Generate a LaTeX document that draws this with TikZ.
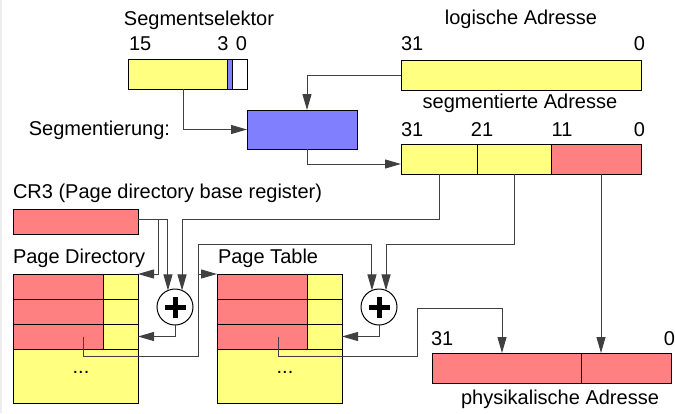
\documentclass[tikz,border=0pt]{standalone}
\usepackage{fontspec}
\setmainfont{Liberation Sans}
\usetikzlibrary{arrows.meta}

\definecolor{gelb}{HTML}{FFFF80}
\definecolor{rot}{HTML}{FF8080}
\definecolor{blau}{HTML}{8080FF}
\definecolor{linie}{HTML}{404040}

\begin{document}
\begin{tikzpicture}[
		x=0.5pt, y=-0.5pt,
		every node/.style={font=\fontsize{10}{12}\selectfont},
		feld/.style={draw=black, line width=0.5pt, inner sep=0pt, outer sep=0pt, anchor=north west, minimum height=15pt},
		zeile/.style={feld, minimum height=12.5pt},
		lbl/.style={inner sep=0pt, outer sep=0pt, anchor=base},
		conn/.style={draw=linie, line width=0.5pt, -{Triangle[length=8pt,width=4.5pt]}},
		addierer/.style={circle, draw=black, line width=0.5pt, minimum size=18pt, inner sep=0pt, outer sep=0pt, fill=white,
			path picture={\draw[line width=2.5pt] (path picture bounding box.center) +(-5.25pt,0) -- +(5.25pt,0) +(0,-5.25pt) -- +(0,5.25pt);}}
		]
		\useasboundingbox (0,0) rectangle (675,413);
		\fill[black!7] (0,0) rectangle (2,413);

		\node[feld, fill=gelb, minimum width=49.5pt] (selgelb) at (128,59) {};
		\node[feld, fill=blau, minimum width=2.5pt] (selblau) at (227,59) {};
		\node[feld, fill=white, minimum width=7.5pt] (selweiss) at (232,59) {};
		\node[lbl] (seltext) at (199,25) {Segmentselektor};
		\node[lbl, anchor=base west] (sel15) at (129,50) {15};
		\node[lbl] (sel3) at (223,50) {3};
		\node[lbl, anchor=base east] (sel0) at (247,50) {0};

		\node[feld, fill=gelb, minimum width=120pt] (logadr) at (401,60) {};
		\node[lbl] (logtext) at (521,24) {logische Adresse};
		\node[lbl, anchor=base west] (log31) at (401,50) {31};
		\node[lbl, anchor=base east] (log0) at (645,50) {0};

		\node[feld, fill=blau, minimum width=55pt, minimum height=19.5pt] (segm) at (247,110) {};
		\node[lbl, anchor=base east] (segmtext) at (170,135) {Segmentierung:};

		\node[feld, fill=gelb, minimum width=38pt] (segf1) at (401,144) {};
		\node[feld, fill=gelb, minimum width=37pt] (segf2) at (477,144) {};
		\node[feld, fill=rot, minimum width=45pt] (segf3) at (551,144) {};
		\node[lbl] (segtext) at (520,108) {segmentierte Adresse};
		\node[lbl, anchor=base west] (seg31) at (401,136) {31};
		\node[lbl] (seg21) at (482,136) {21};
		\node[lbl] (seg11) at (562,136) {11};
		\node[lbl, anchor=base east] (seg0) at (645,136) {0};

		\node[zeile, fill=rot, minimum width=62.5pt] (cr3) at (13,209) {};
		\node[lbl, anchor=base west] (cr3text) at (13,198) {CR3 (Page directory base register)};

		\node[lbl, anchor=base west] (pdtext) at (13,263) {Page Directory};
		\node[lbl, anchor=base west] (pttext) at (218,263) {Page Table};
		\foreach \i in {1,2,3} {
			\node[zeile, fill=rot, minimum width=45pt] (pdr\i) at (13,{249+25*\i}) {};
			\node[zeile, fill=gelb, minimum width=17.5pt] (pdg\i) at (103,{249+25*\i}) {};
			\node[zeile, fill=rot, minimum width=45pt] (ptr\i) at (217,{249+25*\i}) {};
			\node[zeile, fill=gelb, minimum width=17.5pt] (ptg\i) at (307,{249+25*\i}) {};
		}
		\node[feld, fill=gelb, minimum width=62.5pt, minimum height=27pt] (pdrest) at (13,349) {};
		\node[feld, fill=gelb, minimum width=62.5pt, minimum height=27pt] (ptrest) at (217,349) {};
		\node[lbl] (pddots) at (81,373) {...};
		\node[lbl] (ptdots) at (285,373) {...};

		\node[addierer] (add1) at (175,307) {};
		\node[addierer] (add2) at (379,307) {};

		\node[feld, fill=rot, minimum width=74.5pt] (phys1) at (432,353) {};
		\node[feld, fill=rot, minimum width=45pt] (phys2) at (581,353) {};
		\node[lbl, anchor=base west] (phys31) at (431,345) {31};
		\node[lbl, anchor=base east] (phys0) at (675,345) {0};
		\node[lbl] (physfext) at (560,404) {physikalische Adresse};

		\coordinate (selaus) at ([xshift=27.5pt]selgelb.south west);
		\coordinate (segaus) at ([xshift=30pt]segm.south west);
		\coordinate (cr3aus) at ([yshift=1.25pt]cr3.east);
		\coordinate (abzw) at ([xshift=10pt]cr3aus);
		\coordinate (pdzeiger) at ([xshift=35pt]pdr3.west);
		\coordinate (ptzeiger) at ([xshift=30.5pt]ptr3.west);
		\coordinate (pdbus) at (198,244);
		\coordinate (ptbus) at (417,308);
		\coordinate (physein) at ([xshift=35pt]phys1.north west);
		\coordinate (segf3aus) at ([xshift=25pt]segf3.south west);

		\draw[conn] (logadr.west) -| ([xshift=30pt]segm.north west);
		\draw[conn] (selaus) |- (segm.west);
		\draw[conn] (segaus) |- ([yshift=-2.5pt]segf1.west);
		\draw[conn] (cr3aus) -| (add1.113);
		\draw[conn] (abzw) |- (pdg1.north east);
		\draw[conn] (segf1.south) -- (segf1.south |- cr3aus) -| (add1.67);
		\draw[conn] (add1.south) |- (pdg3.east);
		\draw[conn] (pdzeiger) -- ++(0,20) -| (pdbus) -| (add2.113);
		\draw[conn] (pdbus |- ptr1.north west) -- (ptr1.north west);
		\draw[conn] (segf2.south) -- (segf2.south |- pdbus) -| (add2.67);
		\draw[conn] (add2.south) |- (ptg3.east);
		\draw[conn] (ptzeiger) -- ++(0,20) -| (ptbus) -| (physein);
		\draw[conn] (segf3aus) -- (segf3aus |- phys2.north);
	\end{tikzpicture}
\end{document}
